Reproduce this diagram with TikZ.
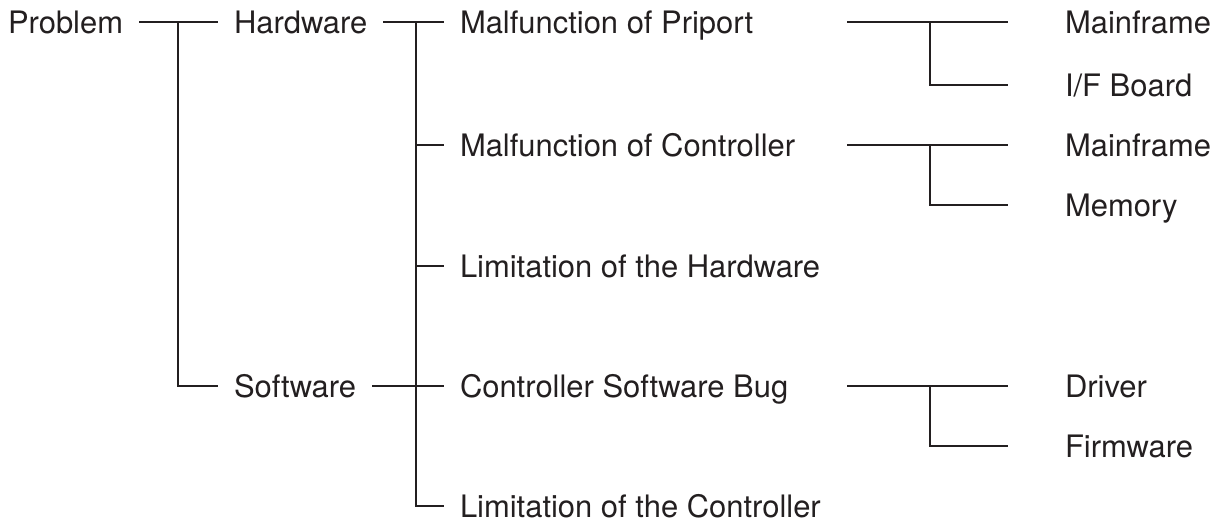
\documentclass[tikz,border=0pt]{standalone}
\usepackage{fontspec}
\setmainfont{TeX Gyre Heros}
\definecolor{ink}{RGB}{35,31,32}
\begin{document}
\begin{tikzpicture}[x=0.025cm,y=-0.025cm,
    every node/.style={font=\fontsize{22}{26}\selectfont,text=ink,inner sep=0pt,
      outer xsep=0.4cm,text height=16pt,text depth=0pt,anchor=west},
    leaf/.style={outer xsep=1.425cm},
    tree/.style={draw=ink,line width=1.8pt,line join=miter}]
        \useasboundingbox (0,0) rectangle (1221,523);
        % texts
        \node (prob) at (-8,22) {Problem};
        \node (hw) at (218,22) {Hardware};
        \node (sw) at (218,386) {Software};
        \node (mfp) at (444,22) {Malfunction of Priport};
        \node (mfc) at (444,145) {Malfunction of Controller};
        \node (lhw) at (444,266) {Limitation of the Hardware};
        \node (csb) at (444,386) {Controller Software Bug};
        \node (lctl) at (444,506) {Limitation of the Controller};
        \node[leaf] (mfa) at (1008,22) {Mainframe};
        \node[leaf] (ifb) at (1008,85) {I/F Board};
        \node[leaf] (mfb) at (1008,145) {Mainframe};
        \node[leaf] (mem) at (1008,205) {Memory};
        \node[leaf] (drv) at (1008,386) {Driver};
        \node[leaf] (fw) at (1008,446) {Firmware};
        % junctions
        \coordinate (ja) at (178,22);
        \coordinate (jb) at (416,22);
        \foreach \n/\y in {pa/22,pb/145,pc/386} \coordinate (\n) at (847,\y);
        \foreach \n/\y in {ka/22,kb/145,kc/386} \coordinate (\n) at (930,\y);

        \draw[tree] (prob.east) -- (hw.west);
        \draw[tree] (ja) |- (sw.west);
        \draw[tree] (hw.east) -- (mfp.west);
        \draw[tree] (sw.east) -- (csb.west);
        \draw[tree] (jb) |- (lctl.west);
        \foreach \n in {mfc,lhw} \draw[tree] (jb |- \n.west) -- (\n.west);
        \draw[tree] (pa) -- (mfa.west);
        \draw[tree] (ka) |- (ifb.west);
        \draw[tree] (pb) -- (mfb.west);
        \draw[tree] (kb) |- (mem.west);
        \draw[tree] (pc) -- (drv.west);
        \draw[tree] (kc) |- (fw.west);
    \end{tikzpicture}
\end{document}
